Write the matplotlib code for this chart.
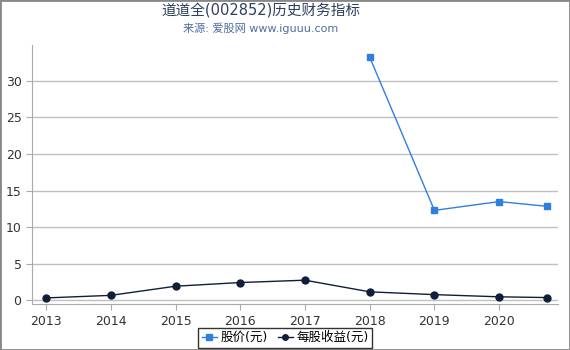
import matplotlib.pyplot as plt

plt.rcParams['font.family'] = ['DejaVu Sans', 'Noto Sans CJK SC']

# data
eps_years = [2013, 2014, 2015, 2016, 2017, 2018, 2019, 2020, 2020.74]
eps = [0.35, 0.7, 1.95, 2.45, 2.77, 1.18, 0.8, 0.5, 0.4]
price_years = [2018, 2019, 2020, 2020.74]
price = [33.2, 12.3, 13.5, 12.85]
year_ticks = [2013, 2014, 2015, 2016, 2017, 2018, 2019, 2020]
y_ticks = [0, 5, 10, 15, 20, 25, 30]

fig = plt.figure(figsize=(5.7, 3.5), dpi=100)
ax = fig.add_axes([0.056, 0.131, 0.923, 0.74])

ax.plot(price_years, price, color='#2f7fdf', marker='s', markersize=5,
        linewidth=1, label='股价(元)')
ax.plot(eps_years, eps, color='#0f1f3a', marker='o', markersize=5,
        linewidth=1, label='每股收益(元)')

ax.set_xlim(2012.78, 2020.91)
ax.set_ylim(-0.5, 34.85)
ax.set_xticks(year_ticks)
ax.set_yticks(y_ticks)
ax.tick_params(labelsize=9, colors='#333333', length=4, color='#aaaaaa')
ax.grid(axis='y', color='#c0c0c0', linewidth=1)
ax.set_axisbelow(True)
for s in ['top', 'right']:
    ax.spines[s].set_visible(False)
for s in ['left', 'bottom']:
    ax.spines[s].set_color('#aaaaaa')

fig.text(0.458, 0.968, '道道全(002852)历史财务指标', ha='center', va='center',
         fontsize=10.5, color='#2b3f5f')
fig.text(0.458, 0.92, '来源: 爱股网 www.iguuu.com', ha='center', va='center',
         fontsize=8, color='#4f6f9f')

leg = fig.legend(loc='center', bbox_to_anchor=(0.5, 0.035), ncol=2, fontsize=9,
                 frameon=True, fancybox=False, handlelength=1.2,
                 handletextpad=0.3, columnspacing=0.8, borderpad=0.3,
                 markerscale=0.8)
leg.get_frame().set_edgecolor('black')
leg.get_frame().set_linewidth(1)

# gray border around the picture
border = plt.Rectangle((0, 0), 1, 1, transform=fig.transFigure, fill=False,
                       edgecolor='#888888', linewidth=2)
fig.patches.append(border)

plt.savefig('out.png', dpi=100)
